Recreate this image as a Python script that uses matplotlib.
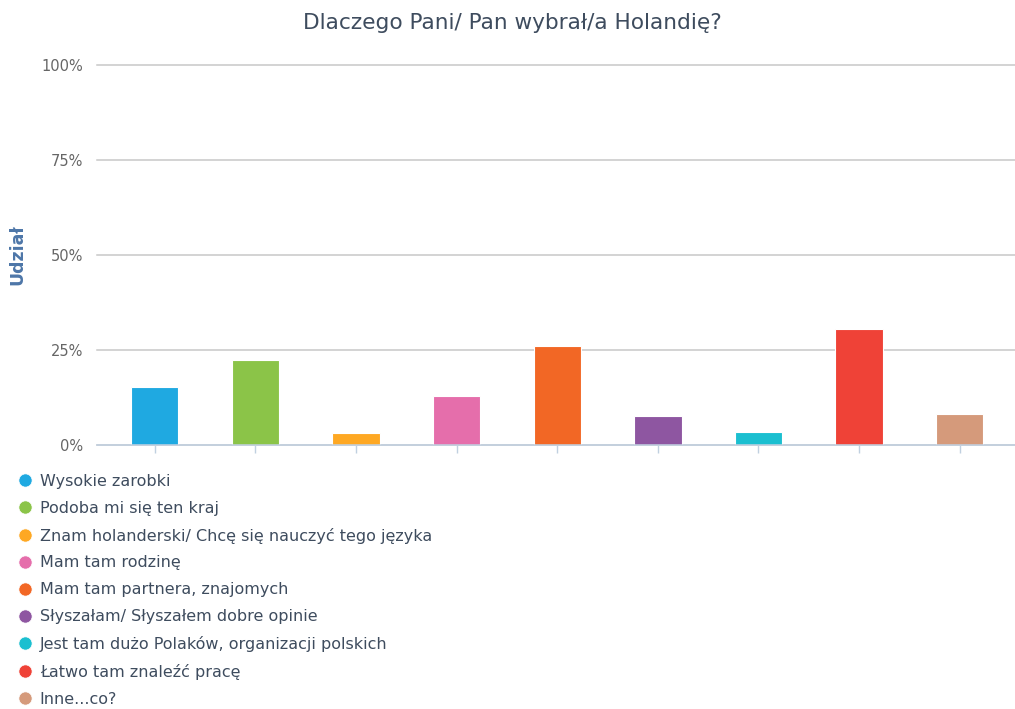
import matplotlib.pyplot as plt
from matplotlib.lines import Line2D
from matplotlib.ticker import FuncFormatter

# Answers and their shares (%)
labels = [
    'Wysokie zarobki',
    'Podoba mi się ten kraj',
    'Znam holanderski/ Chcę się nauczyć tego języka',
    'Mam tam rodzinę',
    'Mam tam partnera, znajomych',
    'Słyszałam/ Słyszałem dobre opinie',
    'Jest tam dużo Polaków, organizacji polskich',
    'Łatwo tam znaleźć pracę',
    'Inne...co?',
]
shares = [15.3, 22.4, 3.2, 12.8, 26.1, 7.7, 3.3, 30.4, 8.1]
colors = ['#1fa9e1', '#8bc448', '#fea823', '#e56eab', '#f26725',
          '#8e56a1', '#1bbfd0', '#ef4237', '#d59a7b']
yticks = [0, 25, 50, 75, 100]

fig = plt.figure(figsize=(10.15, 7.09), dpi=100)
ax = fig.add_axes([97 / 1015, 1 - 445 / 709, 918 / 1015, 380 / 709])

x = list(range(len(labels)))
ax.bar(x, shares, width=0.47, color=colors, edgecolor='white', linewidth=0.8, zorder=3)

ax.set_xlim(-0.575, 8.55)
ax.set_ylim(0, 100)
ax.set_yticks(yticks)
ax.yaxis.set_major_formatter(FuncFormatter(lambda v, p: f'{v:.0f}%'))
ax.grid(axis='y', color='#c8c8c8', linewidth=1.1, zorder=0)
for gl in ax.get_ygridlines():
    gl.set_clip_on(False)
ax.set_xticks(x)
ax.set_xticklabels([])

for s in ['top', 'right', 'left']:
    ax.spines[s].set_visible(False)
ax.spines['bottom'].set_color('#c0d0e0')
ax.spines['bottom'].set_linewidth(1.1)
ax.spines['bottom'].set_zorder(4)
ax.tick_params(axis='x', direction='out', length=6, width=1, color='#c0d0e0')
ax.tick_params(axis='y', length=0, pad=10, labelsize=10.5, labelcolor='#666666')

ax.set_ylabel('Udział', fontsize=12.5, fontweight='bold', color='#4d76a8')
ax.yaxis.set_label_coords(-0.077, 0.5)

fig.text(0.5044, 0.968, 'Dlaczego Pani/ Pan wybrał/a Holandię?', ha='center', va='center',
         fontsize=15.6, color='#3e4c5e')

handles = [Line2D([], [], linestyle='none', marker='o', markersize=9.5,
                  markerfacecolor=c, markeredgecolor='white', markeredgewidth=0.5)
           for c in colors]
fig.legend(handles, labels, loc='upper left', bbox_to_anchor=(0.018, 1 - 474 / 709),
           frameon=False, fontsize=11.5, labelcolor='#3e4c5e', handlelength=0.9,
           handletextpad=0.45, labelspacing=0.74, borderaxespad=0, borderpad=0)

fig.savefig('out.png', dpi=100)
